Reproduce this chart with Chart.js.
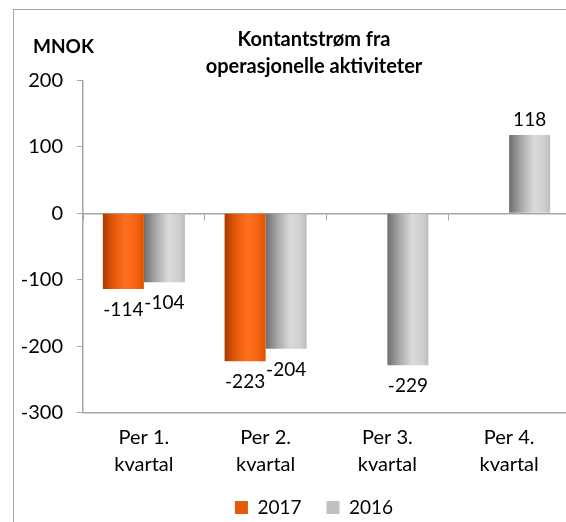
<!DOCTYPE html>
<html>
<head>
<meta charset="utf-8">
<script src="https://cdn.jsdelivr.net/npm/chart.js@4/dist/chart.umd.min.js"></script>
<style>
  html, body { margin: 0; padding: 0; background: #fff; overflow: hidden; width: 566px; height: 522px; }
  #wrap {
    position: absolute; left: 13px; top: 9px;
    width: 600px; height: 517px;
    border-left: 1px solid #a6a6a6; border-top: 1px solid #a6a6a6;
  }
</style>
</head>
<body>
<div id="wrap"><canvas id="myBarChart"></canvas></div>
<script>
// Kontantstrøm fra operasjonelle aktiviteter (MNOK)
var categories = [["Per 1.", "kvartal"], ["Per 2.", "kvartal"], ["Per 3.", "kvartal"], ["Per 4.", "kvartal"]];
var seriesNames = ["2017", "2016"];
var values2017 = [-114, -223, null, null];
var values2016 = [-104, -204, -229, 118];
var yTicks = [200, 100, 0, -100, -200, -300];

var CAT_PCT = 0.674;
var FONT = "Lato";
var axisGray = "#a6a6a6";

// horizontal gradient so the bars look like the excel cylinders
function cylinder(ctx, stops, flat) {
  var chart = ctx.chart;
  var area = chart.chartArea;
  var x = chart.scales.x;
  if (!area || !x) return flat;
  var bw = area.width / categories.length * CAT_PCT / 2;
  var c = x.getPixelForValue(ctx.dataIndex) + (ctx.datasetIndex === 0 ? -bw / 2 : bw / 2);
  var g = chart.ctx.createLinearGradient(c - bw / 2, 0, c + bw / 2, 0);
  stops.forEach(function (s) { g.addColorStop(s[0], s[1]); });
  return g;
}

var orangeStops = [[0, "#a83b02"], [0.25, "#e2580a"], [0.55, "#ff7020"], [0.8, "#f56310"], [1, "#dc5200"]];
var grayStops = [[0, "#6e6e6e"], [0.3, "#a9a9a9"], [0.6, "#dadada"], [0.85, "#cfcfcf"], [1, "#bcbcbc"]];

var valueLabels = {
  id: "valueLabels",
  afterDatasetsDraw: function (chart) {
    var ctx = chart.ctx;
    ctx.save();
    ctx.font = "19px " + FONT;
    ctx.fillStyle = "#000";
    ctx.textAlign = "center";
    ctx.textBaseline = "middle";
    chart.data.datasets.forEach(function (ds, i) {
      chart.getDatasetMeta(i).data.forEach(function (bar, j) {
        var v = ds.data[j];
        if (v === null) return;
        ctx.fillText(String(v), bar.x, v < 0 ? bar.y + 21 : bar.y - 15);
      });
    });
    ctx.restore();
  }
};

var unitLabel = {
  id: "unitLabel",
  afterDraw: function (chart) {
    var ctx = chart.ctx;
    ctx.save();
    ctx.font = "bold 19px " + FONT;
    ctx.fillStyle = "#000";
    ctx.textBaseline = "middle";
    ctx.fillText("MNOK", 19, 37);
    ctx.restore();
  }
};

var ctx = document.getElementById("myBarChart");
var myBarChart = new Chart(ctx, {
  type: "bar",
  data: {
    labels: categories,
    datasets: [
      {
        label: seriesNames[0],
        data: values2017,
        backgroundColor: function (c) { return cylinder(c, orangeStops, "#e35a08"); },
      },
      {
        label: seriesNames[1],
        data: values2016,
        backgroundColor: function (c) { return cylinder(c, grayStops, "#c0c0c0"); },
      },
    ],
  },
  options: {
    responsive: true,
    maintainAspectRatio: false,
    animation: false,
    barPercentage: 1,
    categoryPercentage: CAT_PCT,
    layout: { padding: { left: 5, right: 5, top: 0, bottom: 0 } },
    plugins: {
      tooltip: { enabled: false },
      title: {
        display: true,
        text: ["Kontantstrøm fra", "operasjonelle aktiviteter"],
        color: "#000",
        font: { family: FONT, size: 20, weight: "bold", lineHeight: 1.35 },
        padding: { top: 16.5, bottom: 0 },
      },
      legend: {
        position: "bottom",
        labels: {
          color: "#000",
          font: { family: FONT, size: 19 },
          boxWidth: 13,
          boxHeight: 13,
          padding: 25,
          generateLabels: function (chart) {
            return seriesNames.map(function (n, i) {
              return {
                text: n,
                fillStyle: i === 0 ? "#e35a08" : "#c0c0c0",
                strokeStyle: "transparent",
                lineWidth: 0,
                datasetIndex: i,
                fontColor: "#000",
              };
            });
          },
        },
      },
    },
    scales: {
      x: {
        afterFit: function (scale) { scale.height = 60.5; },
        grid: { display: false, drawTicks: false },
        border: { display: true, color: axisGray, width: 1.5 },
        ticks: { color: "#000", font: { family: FONT, size: 20, lineHeight: 1.35 }, padding: 12, maxRotation: 0 },
      },
      x2: {
        type: "category",
        position: { y: 0 },
        offset: true,
        grid: { drawOnChartArea: false, drawTicks: true, tickLength: 6, color: axisGray, offset: true },
        border: { display: true, color: axisGray, width: 1.5 },
        ticks: { display: false },
      },
      y: {
        min: yTicks[yTicks.length - 1],
        max: yTicks[0],
        afterFit: function (scale) { scale.width = 64; },
        ticks: { stepSize: 100, color: "#000", font: { family: FONT, size: 20 }, padding: 14 },
        grid: { drawOnChartArea: false, tickLength: 6, color: axisGray },
        border: { display: true, color: axisGray, width: 1.5 },
      },
      // empty box on the right: the plot runs past the frame like in the original
      yRight: {
        position: "right",
        afterFit: function (scale) { scale.width = 39; },
        grid: { display: false },
        border: { display: false },
        ticks: { display: false },
      },
    },
  },
  plugins: [valueLabels, unitLabel],
});
</script>
</body>
</html>
